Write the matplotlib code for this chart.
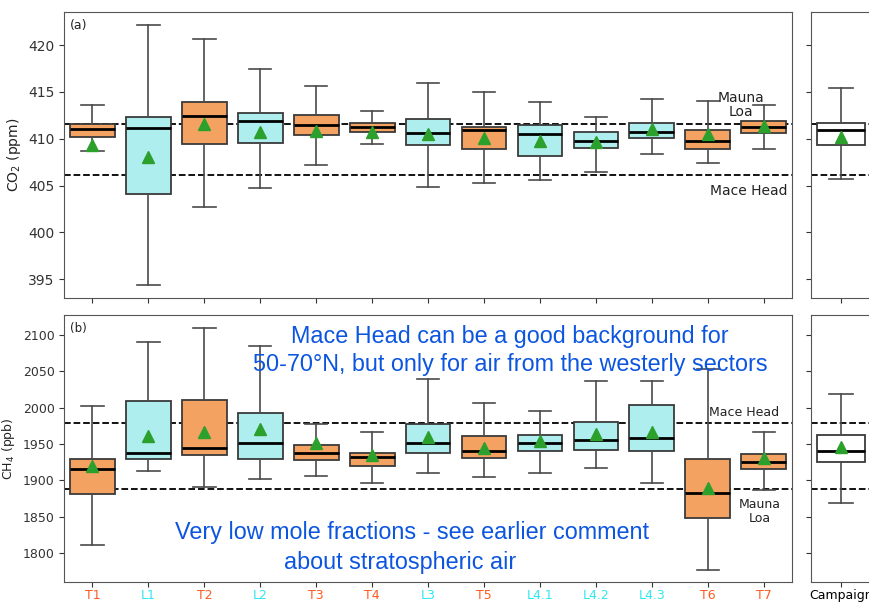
import matplotlib
matplotlib.use("Agg")
import matplotlib.pyplot as plt

sites = ['T1', 'L1', 'T2', 'L2', 'T3', 'T4', 'L3', 'T5', 'L4.1', 'L4.2', 'L4.3', 'T6', 'T7']

co2_whislo = [408.7, 394.4, 402.7, 404.8, 407.2, 409.4, 404.9, 405.3, 405.6, 406.5, 408.4, 407.4, 408.9]
co2_q1 = [410.2, 404.1, 409.4, 409.6, 410.4, 410.7, 409.3, 408.9, 408.2, 409.0, 410.1, 408.9, 410.6]
co2_med = [411.0, 411.15, 412.4, 411.9, 411.5, 411.25, 410.6, 410.9, 410.5, 409.8, 410.7, 409.8, 411.3]
co2_q3 = [411.6, 412.35, 413.95, 412.75, 412.5, 411.7, 412.1, 411.3, 411.5, 410.7, 411.7, 410.9, 411.9]
co2_whishi = [413.56, 422.1, 420.6, 417.5, 415.6, 412.96, 415.95, 414.95, 413.9, 412.35, 414.2, 414.0, 413.6]
co2_mean = [409.3, 408.1, 411.6, 410.7, 410.8, 410.7, 410.5, 410.1, 409.8, 409.7, 411.0, 410.5, 411.35]

ch4_whislo = [1812, 1913, 1891, 1902, 1906, 1896, 1910, 1905, 1910, 1917, 1896, 1777, 1887]
ch4_q1 = [1881, 1929, 1934.5, 1929, 1928.5, 1920, 1938, 1931, 1940, 1942, 1941, 1848, 1916]
ch4_med = [1916, 1937, 1944.5, 1952, 1937, 1932, 1952, 1941, 1951, 1956, 1958, 1883, 1925]
ch4_q3 = [1930, 2009, 2010, 1992, 1948, 1938, 1978, 1960.5, 1962, 1980, 2004, 1930, 1936]
ch4_whishi = [2002, 2090, 2109, 2085, 1978, 1966, 2039, 2006, 1995, 2037, 2036, 2053, 1966]
ch4_mean = [1920, 1960.5, 1966.5, 1970, 1952, 1934.5, 1960, 1945, 1954, 1964, 1967, 1890, 1931]

campaign_label = ['Campaign']
campaign_co2 = dict(whislo=405.7, q1=409.3, med=410.9, q3=411.7, whishi=415.4, mean=410.2)
campaign_ch4 = dict(whislo=1869.5, q1=1925, med=1940, q3=1963, whishi=2018.6, mean=1946)

co2_mauna_loa, co2_mace_head = 411.6, 406.1
ch4_mace_head, ch4_mauna_loa = 1979.3, 1887.8

ORANGE = '#f4a261'
CYAN = '#aeeeee'
T_COL = '#ff5a1e'
L_COL = '#2fe8f0'
BLUE = '#0b55e0'

def stats(wl, q1, md, q3, wh, mn, labels):
    return [dict(whislo=a, q1=b, med=c, q3=d, whishi=e, mean=f, fliers=[], label=l)
            for a, b, c, d, e, f, l in zip(wl, q1, md, q3, wh, mn, labels)]

def draw(ax, st, colors):
    bp = ax.bxp(st, positions=range(1, len(st) + 1), widths=0.8, patch_artist=True,
                showmeans=True, showfliers=False,
                boxprops=dict(edgecolor='#3a3a3a', linewidth=1.3),
                whiskerprops=dict(color='#4a4a4a', linewidth=1.2),
                capprops=dict(color='#4a4a4a', linewidth=1.2),
                medianprops=dict(color='black', linewidth=2.0),
                meanprops=dict(marker='^', markerfacecolor='#2ca02c', markeredgecolor='#2ca02c', markersize=8))
    for p, c in zip(bp['boxes'], colors):
        p.set_facecolor(c)

fig = plt.figure(figsize=(8.7, 6.03), dpi=100)
W, H = 870.0, 603.0
axA = fig.add_axes([64.5 / W, 1 - 297.7 / H, (791.7 - 64.5) / W, (297.7 - 12.3) / H])
axB = fig.add_axes([64.5 / W, 1 - 582.3 / H, (791.7 - 64.5) / W, (582.3 - 315) / H])
axC = fig.add_axes([810.7 / W, 1 - 297.7 / H, 60.75 / W, (297.7 - 12.3) / H])
axD = fig.add_axes([810.7 / W, 1 - 582.3 / H, 60.75 / W, (582.3 - 315) / H])

colors = [ORANGE if s.startswith('T') else CYAN for s in sites]

draw(axA, stats(co2_whislo, co2_q1, co2_med, co2_q3, co2_whishi, co2_mean, sites), colors)
draw(axB, stats(ch4_whislo, ch4_q1, ch4_med, ch4_q3, ch4_whishi, ch4_mean, sites), colors)
draw(axC, [dict(campaign_co2, fliers=[], label=campaign_label[0])], ['white'])
draw(axD, [dict(campaign_ch4, fliers=[], label=campaign_label[0])], ['white'])

for ax in (axA, axC):
    ax.set_ylim(393.04, 423.5)
    ax.axhline(co2_mauna_loa, color='black', ls='--', lw=1.3, zorder=0.5)
    ax.axhline(co2_mace_head, color='black', ls='--', lw=1.3, zorder=0.5)
for ax in (axB, axD):
    ax.set_ylim(1760.2, 2127)
    ax.axhline(ch4_mace_head, color='black', ls='--', lw=1.3, zorder=0.5)
    ax.axhline(ch4_mauna_loa, color='black', ls='--', lw=1.3, zorder=0.5)

for ax in (axA, axB):
    ax.set_xlim(0.5, 13.5)
for ax in (axC, axD):
    ax.set_xlim(0.5, 1.5)
    ax.tick_params(axis='y', labelleft=False)

for ax in (axA, axB, axC, axD):
    for s in ax.spines.values():
        s.set_color('#555555')
    ax.tick_params(colors='#333333')

axA.set_yticks([395, 400, 405, 410, 415, 420])
axA.tick_params(axis='x', labelbottom=False)
axA.tick_params(axis='y', labelsize=10)
axC.set_yticks([395, 400, 405, 410, 415, 420])
axC.tick_params(axis='x', labelbottom=False)
axB.set_yticks([1800, 1850, 1900, 1950, 2000, 2050, 2100])
axD.set_yticks([1800, 1850, 1900, 1950, 2000, 2050, 2100])
axB.tick_params(axis='y', labelsize=9)
axB.set_xticks(range(1, len(sites) + 1))
axB.set_xticklabels(sites, fontsize=9)
axB.tick_params(axis='x', pad=1.5)
for lab, s in zip(axB.get_xticklabels(), sites):
    lab.set_color(T_COL if s.startswith('T') else L_COL)
axD.set_xticks([1])
axD.set_xticklabels(campaign_label, fontsize=9, color='black')
axD.tick_params(axis='x', pad=1.5)

axA.set_ylabel('CO$_2$ (ppm)', fontsize=10, color='#222222')
axB.set_ylabel('CH$_4$ (ppb)', fontsize=9, color='#222222')
axA.text(0.008, 0.975, '(a)', transform=axA.transAxes, fontsize=9, va='top', ha='left', color='#222222')
axB.text(0.008, 0.975, '(b)', transform=axB.transAxes, fontsize=8.5, va='top', ha='left', color='#222222')

axA.text(12.6, 413.6, 'Mauna\nLoa', ha='center', va='center', fontsize=10, color='#222222', linespacing=1.0)
axA.text(12.73, 404.45, 'Mace Head', ha='center', va='center', fontsize=10, color='#222222')
axB.text(12.64, 1993, 'Mace Head', ha='center', va='center', fontsize=9, color='#222222')
axB.text(12.93, 1857.5, 'Mauna\nLoa', ha='center', va='center', fontsize=9, color='#222222', linespacing=1.1)

fam = ['Liberation Sans', 'DejaVu Sans']
fig.text(510 / W, 1 - 337 / H, 'Mace Head can be a good background for', ha='center', va='center',
         fontsize=16.8, color=BLUE, family=fam)
fig.text(510 / W, 1 - 365 / H, '50-70°N, but only for air from the westerly sectors', ha='center', va='center',
         fontsize=16.8, color=BLUE, family=fam)
fig.text(412 / W, 1 - 533 / H, 'Very low mole fractions - see earlier comment', ha='center', va='center',
         fontsize=16.8, color=BLUE, family=fam)
fig.text(400 / W, 1 - 562 / H, 'about stratospheric air', ha='center', va='center',
         fontsize=16.8, color=BLUE, family=fam)

fig.savefig('out.png', dpi=100)
